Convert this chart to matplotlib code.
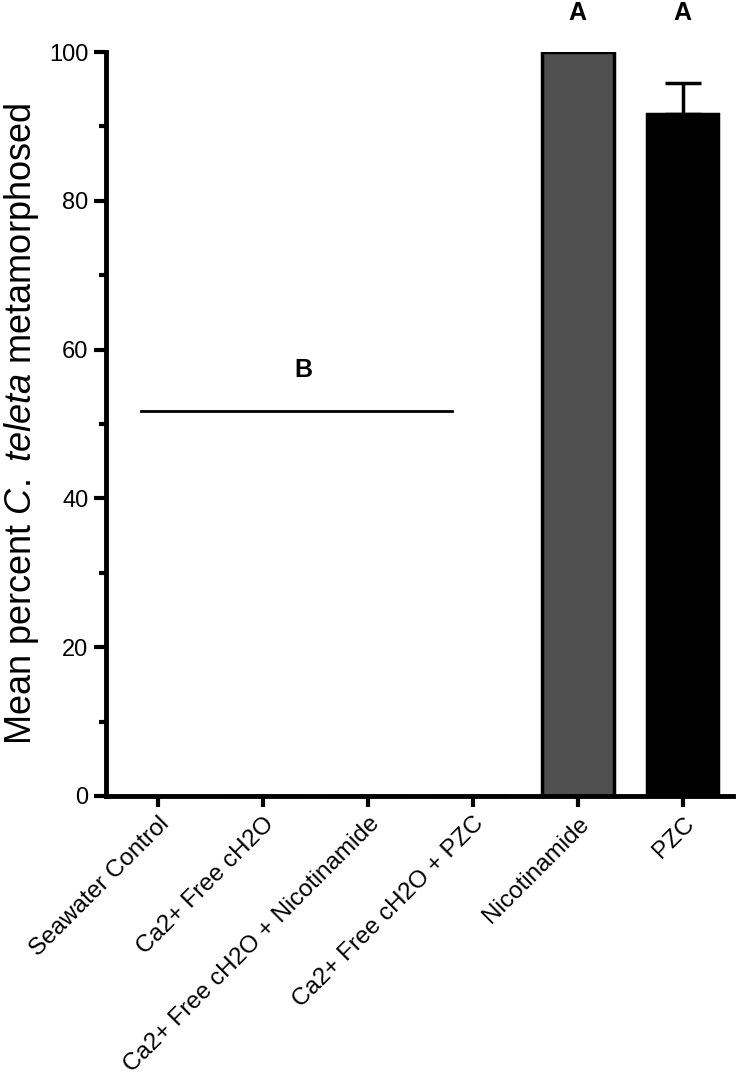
import matplotlib.pyplot as plt
import numpy as np

plt.rcParams['font.family'] = ['Liberation Sans', 'DejaVu Sans']
plt.rcParams['mathtext.fontset'] = 'custom'
plt.rcParams['mathtext.rm'] = 'Liberation Sans'
plt.rcParams['mathtext.it'] = 'Liberation Sans:italic'

categories = ['Seawater Control', 'Ca2+ Free cH2O', 'Ca2+ Free cH2O + Nicotinamide',
              'Ca2+ Free cH2O + PZC', 'Nicotinamide', 'PZC']
means = [0, 0, 0, 0, 100, 91.7]
sems = [0, 0, 0, 0, 0, 4.2]
colors = ['#505050', '#505050', '#505050', '#505050', '#505050', '#000000']

# significance groups
group_b_y = 51.8
letters = ['A', 'A']
letter_pos = [4, 5]

fig = plt.figure(figsize=(7.36, 10.84), dpi=100)
ax = fig.add_axes([0.144, 0.2657, 0.852, 0.6863])

x = np.arange(len(categories))
ax.bar(x, means, width=0.68, color=colors, edgecolor='black', linewidth=2.5, zorder=2)
ax.errorbar(x[5], means[5], yerr=[[0], [sems[5]]], fmt='none', ecolor='black',
            elinewidth=2.5, capsize=13, capthick=2.5, zorder=1)

# group B line over the first four treatments
ax.plot([-0.17, 2.8], [group_b_y, group_b_y], color='black', lw=2)
ax.text(1.38, group_b_y + 5.5, 'B', ha='center', va='center', fontsize=18, fontweight='bold')
for lx, lt in zip(letter_pos, letters):
    ax.text(lx, 105.2, lt, ha='center', va='center', fontsize=18, fontweight='bold',
            clip_on=False)

ax.set_xlim(-0.5, 5.48)
ax.set_ylim(0, 100)
ax.set_yticks([0, 20, 40, 60, 80, 100])
ax.set_yticks(np.arange(10, 100, 20), minor=True)
ax.set_xticks(x)
ax.set_xticklabels(categories, rotation=45, ha='right', rotation_mode='anchor', fontsize=17.5)
ax.tick_params(axis='y', labelsize=17, width=3, length=9, direction='out')
ax.tick_params(axis='y', which='minor', width=3, length=5)
ax.tick_params(axis='x', width=3, length=8, direction='out', pad=4)

for s in ['top', 'right']:
    ax.spines[s].set_visible(False)
for s in ['left', 'bottom']:
    ax.spines[s].set_linewidth(3.5)

ax.set_ylabel('Mean percent $\\it{C.}$ $\\it{teleta}$ metamorphosed', fontsize=26, labelpad=6)

fig.savefig('out.png', dpi=100)
